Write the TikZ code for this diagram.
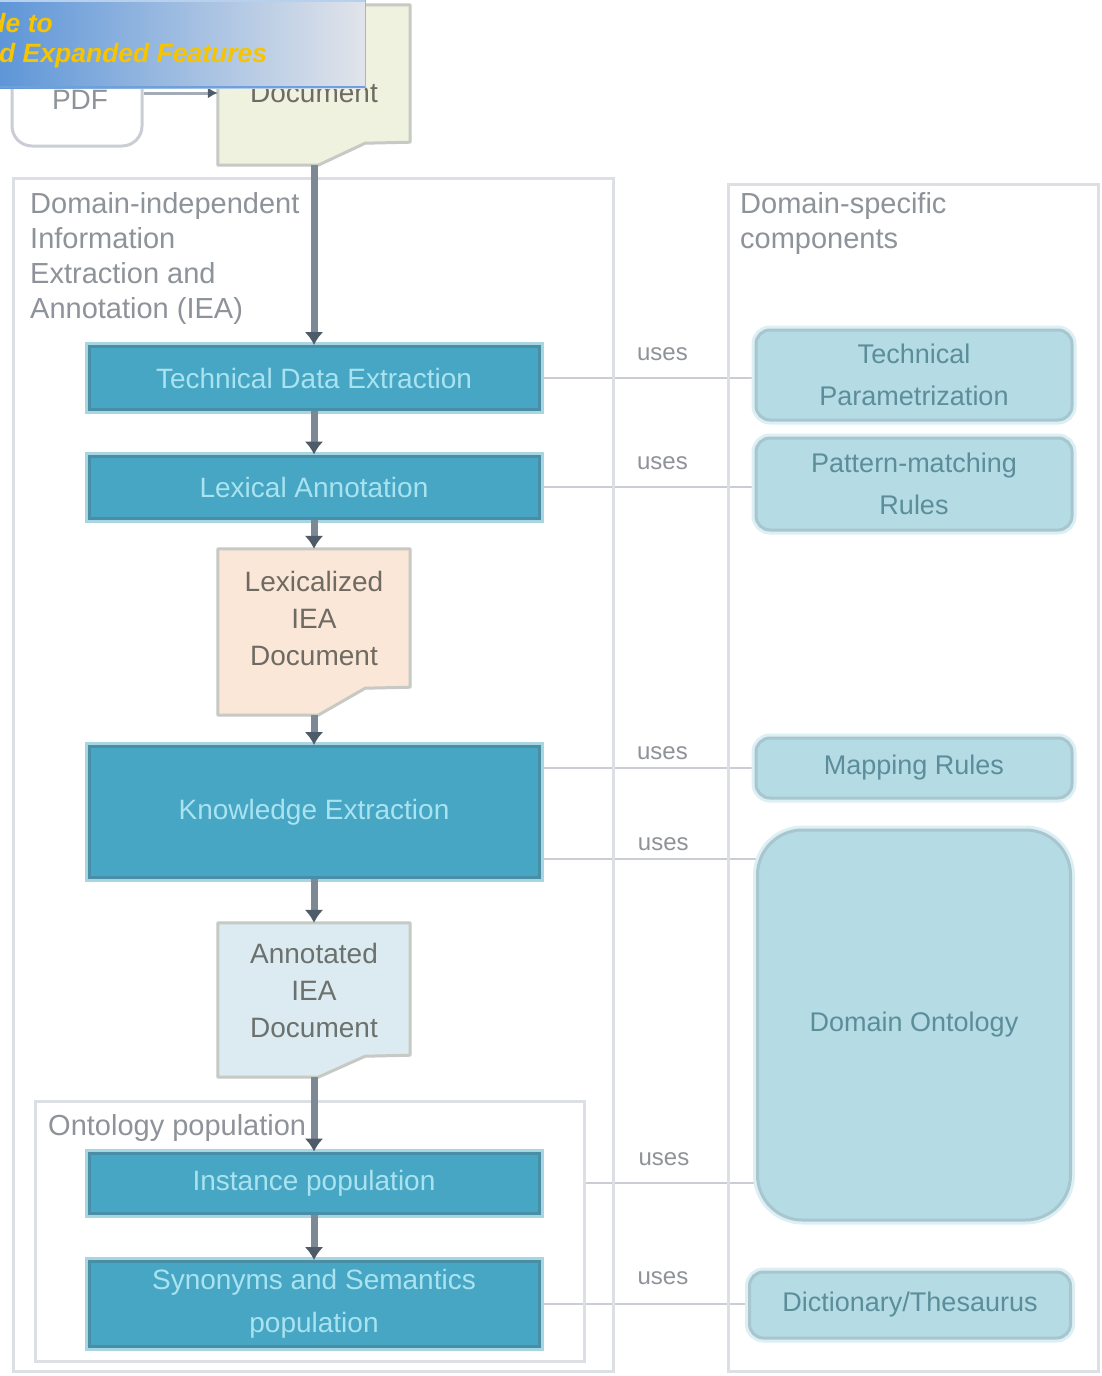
\documentclass[tikz,border=0pt]{standalone}
\usepackage{fontspec}
\setmainfont{Liberation Sans}
\usetikzlibrary{arrows.meta,positioning,calc}

\definecolor{tealfill}{HTML}{46A6C4}
\definecolor{tealedge}{HTML}{4A8EA6}
\definecolor{tealhalo}{HTML}{A8D5E2}
\definecolor{tealtext}{HTML}{A9E3F0}
\definecolor{skyfill}{HTML}{B5DBE5}
\definecolor{skyedge}{HTML}{A8C6CE}
\definecolor{skyhalo}{HTML}{DCEFF4}
\definecolor{skytext}{HTML}{5B8E9A}
\definecolor{flowline}{HTML}{7C8896}
\definecolor{flowtip}{HTML}{4E5C6A}
\definecolor{framegrey}{HTML}{DCE0E5}
\definecolor{labelgrey}{HTML}{8E939A}
\definecolor{usesgrey}{HTML}{8F9297}
\definecolor{usesline}{HTML}{CACED4}
\definecolor{docgreen}{HTML}{EEF2DF}
\definecolor{docpeach}{HTML}{FBE7D8}
\definecolor{docblue}{HTML}{DCEBF1}
\definecolor{docline}{HTML}{C6C9C4}
\definecolor{doctext}{HTML}{6F6A62}
\definecolor{bannerleft}{HTML}{5E96D8}
\definecolor{bannerright}{HTML}{E1E4EA}
\definecolor{banneryellow}{HTML}{F6C400}

\begin{document}
\begin{tikzpicture}[x=1pt, y=-1pt,
    process/.style={draw=tealedge, line width=3pt, fill=tealfill, text=tealtext,
        minimum width=450pt, minimum height=#1, inner sep=0pt, align=center,
        font=\fontsize{28}{43}\selectfont, preaction={draw=tealhalo, line width=9pt}},
    resource/.style={draw=skyedge, line width=3pt, fill=skyfill, text=skytext,
        rounded corners=14pt, minimum width=316pt, minimum height=#1, inner sep=0pt,
        align=center, font=\fontsize{27}{42}\selectfont,
        preaction={draw=skyhalo, line width=9pt}},
    docnode/.style={minimum width=192pt, minimum height=#1, inner sep=0pt},
    doctext/.style={align=center, text=doctext, inner sep=0pt, font=\fontsize{28}{37}\selectfont},
    docedge/.style={draw=docline, line width=3pt, line join=round},
    frame/.style={draw=framegrey, line width=2.5pt, inner sep=0pt, anchor=north west},
    grouplabel/.style={text=labelgrey, align=left, inner sep=0pt, font=\fontsize{29}{35}\selectfont},
    flow/.style={draw=flowline, line width=7pt, -{Latex[length=13pt,width=19pt,color=flowtip]}},
    useline/.style={draw=usesline, line width=2.5pt},
    uses/.style={text=usesgrey, inner sep=0pt, font=\fontsize{24}{24}\selectfont},
    bannertext/.style={text=banneryellow, inner sep=0pt, font=\fontsize{26.5}{30}\selectfont\bfseries\itshape},
]
    \pgfdeclarelayer{background}
    \pgfdeclarelayer{foreground}
    \pgfsetlayers{background,main,foreground}
\useasboundingbox (0,0) rectangle (1101,1376);
\begin{pgfonlayer}{background}
\fill[white] (0,0) rectangle (1101,1376);
\end{pgfonlayer}
\clip (0,0) rectangle (1101,1376);
% group frames
\node[frame, minimum width=600pt, minimum height=1193pt] (ieagroup) at (12,177) {};
\node[frame, minimum width=370pt, minimum height=1187pt] (domgroup) at (727,183) {};
\node[frame, minimum width=549pt, minimum height=260pt] (ontgroup) at (34,1100) {};
\node[grouplabel, anchor=north west] (iealabel) at (30,192) {Domain-independent\\Information\\Extraction and\\Annotation (IEA)};
\node[grouplabel, anchor=north west] (domlabel) at (740,192) {Domain-specific\\ components};
\node[grouplabel, anchor=base west] (ontlabel) at (48,1135) {Ontology population};
% input
\node[draw=usesline, line width=3pt, rounded corners=20pt, fill=white, minimum width=130pt, minimum height=106pt] (pdf) at (77,93) {};
\node[text=labelgrey, inner sep=0pt, font=\fontsize{28}{28}\selectfont] (pdftext) at (80,100) {PDF};
\node[docnode=160pt] (topdoc) at (314,85) {};
\node[doctext] (toptext) at (314,93) {Document};
% processing chain
\node[process=63pt] (tde) at (314,378) {Technical Data Extraction};
\node[process=62pt] (lex) at (314,487) {Lexical Annotation};
\node[docnode=166pt] (ieadoc) at (314,632) {};
\node[doctext] (ieatext) at (314,618) {Lexicalized\\IEA\\Document};
\node[process=131pt] (ke) at (314,812) {Knowledge Extraction};
\node[docnode=154pt] (anndoc) at (314,1000) {};
\node[doctext, text=doctext!80!skytext] (anntext) at (314,990) {Annotated\\IEA\\Document};
\node[process=60pt] (inst) at (314,1183) {Instance population};
\node[process=85pt] (syn) at (314,1304) {Synonyms and Semantics\\population};
% domain resources
\node[resource=90pt] (techpar) at (914,375) {Technical\\Parametrization};
\node[resource=92pt] (patrules) at (914,484) {Pattern-matching\\Rules};
\node[resource=60pt] (maprules) at (914,768) {Mapping Rules};
\node[resource=390pt, minimum width=313pt, rounded corners=45pt] (ontology) at (914,1025) {Domain Ontology};
\node[resource=66pt, minimum width=321pt] (thesaurus) at (910,1305) {Dictionary/Thesaurus};
\begin{pgfonlayer}{background}
\draw[docedge, fill=docgreen] (topdoc.north west) -- (topdoc.north east) -- ([yshift=23pt]topdoc.south east)
    -- ([xshift=-45pt,yshift=22pt]topdoc.south east) -- ([xshift=-92pt]topdoc.south east) -- (topdoc.south west) -- cycle;
\draw[docedge, fill=docpeach] (ieadoc.north west) -- (ieadoc.north east) -- ([yshift=28pt]ieadoc.south east)
    -- ([xshift=-45pt,yshift=27pt]ieadoc.south east) -- ([xshift=-92pt]ieadoc.south east) -- (ieadoc.south west) -- cycle;
\draw[docedge, fill=docblue] (anndoc.north west) -- (anndoc.north east) -- ([yshift=22pt]anndoc.south east)
    -- ([xshift=-45pt,yshift=21pt]anndoc.south east) -- ([xshift=-92pt]anndoc.south east) -- (anndoc.south west) -- cycle;
\draw[useline] (tde.east) -- (tde.east -| techpar.west) node[uses, above=16pt, pos=0.57] {uses};
\draw[useline] (lex.east) -- (lex.east -| patrules.west) node[uses, above=16pt, pos=0.57] {uses};
\draw[useline] (ke.east |- maprules) -- (maprules.west) node[uses, above=7pt, pos=0.57] {uses};
\draw[useline] ([yshift=-47pt]ke.east) -- ([yshift=-47pt]ke.east -| ontology.west) node[uses, above=7pt, pos=0.57] {uses};
\draw[useline] (ontgroup.east |- inst) -- (inst -| ontology.west) node[uses, above=16pt, pos=0.46] {uses};
\draw[useline] (syn.east) -- (syn.east -| thesaurus.west) node[uses, above=18pt, pos=0.59] {uses};
\end{pgfonlayer}
% flow
\draw[flowline!70!white, line width=3pt, -{Latex[length=10pt,width=11pt,color=flowtip]}] (pdf) -- (pdf -| topdoc.west);
\draw[flow] (topdoc) -- (tde);
\draw[flow] (tde) -- (lex);
\draw[flow] (lex) -- (ieadoc);
\draw[flow] (ieadoc) -- (ke);
\draw[flow] (ke) -- (anndoc);
\draw[flow] (anndoc) -- (inst);
\draw[flow] (inst) -- (syn);
\begin{pgfonlayer}{foreground}
\node[anchor=north west, minimum width=365pt, minimum height=88pt, inner sep=0pt,
    left color=bannerleft, right color=bannerright] (banner) at (0,0) {};
\draw[bannerleft!45!white, line width=4pt] (banner.north west) -- (banner.north east);
\draw[bannerleft!90!white, line width=2.5pt] ([yshift=1.5pt]banner.south west) -- ([yshift=1.5pt]banner.south east);
\draw[gray!60, line width=1pt] (banner.north east) -- (banner.south east);
\node[bannertext, anchor=base east] (bannerone) at (53,32) {de to};
\node[bannertext, anchor=base west] (bannertwo) at (-1,62) {d Expanded Features};
\end{pgfonlayer}
\end{tikzpicture}
\end{document}
